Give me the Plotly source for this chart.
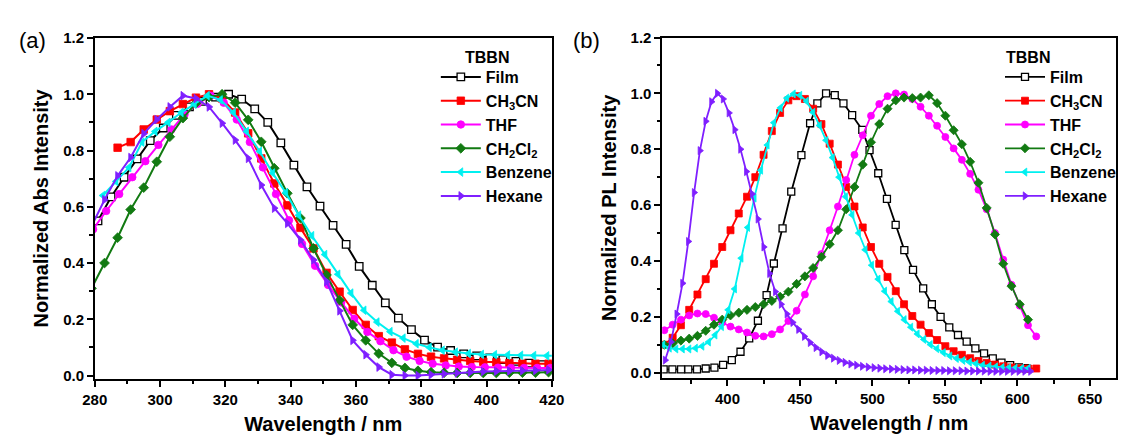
import plotly.graph_objects as go

FONT = "Liberation Sans, Arial, Helvetica, sans-serif"

# ---------------- (a) normalized absorption ----------------
abs_film_x = [281, 285, 289, 293, 297, 301, 305, 309, 313, 317, 321, 325, 329, 333, 337, 341,
              345, 349, 353, 357, 361, 365, 369, 373, 377, 381, 385, 389, 393, 397, 401, 405,
              409, 413, 417, 421]
abs_film_y = [0.55, 0.635, 0.705, 0.77, 0.835, 0.88, 0.925, 0.955, 0.975, 0.99, 1.0, 0.983,
              0.948, 0.9, 0.827, 0.748, 0.671, 0.602, 0.534, 0.466, 0.388, 0.321, 0.258, 0.204,
              0.163, 0.126, 0.101, 0.089, 0.077, 0.07, 0.063, 0.057, 0.05, 0.044, 0.039, 0.036]

abs_ch3cn_x = [287, 291, 295, 299, 303, 307, 311, 315, 319, 323, 327, 331, 335, 339, 343, 347,
               351, 355, 359, 363, 367, 371, 375, 379, 383, 387, 391, 395, 399, 403, 407, 411,
               415, 419, 423]
abs_ch3cn_y = [0.81, 0.83, 0.875, 0.91, 0.94, 0.965, 0.988, 1.0, 0.985, 0.935, 0.861, 0.772,
               0.683, 0.605, 0.525, 0.452, 0.365, 0.298, 0.233, 0.18, 0.14, 0.117, 0.093, 0.077,
               0.067, 0.061, 0.056, 0.052, 0.049, 0.047, 0.044, 0.042, 0.042, 0.042, 0.042]

abs_thf_x = [279.5, 283.5, 287.5, 291.5, 295.5, 299.5, 303.5, 307.5, 311.5, 315.5, 319.5, 323.5,
             327.5, 331.5, 335.5, 339.5, 343.5, 347.5, 351.5, 355.5, 359.5, 363.5, 367.5, 371.5,
             375.5, 379.5, 383.5, 387.5, 391.5, 395.5, 399.5, 403.5, 407.5, 411.5, 415.5, 419.5,
             423.5]
abs_thf_y = [0.52, 0.585, 0.645, 0.705, 0.762, 0.82, 0.875, 0.928, 0.966, 0.995, 0.97, 0.91,
             0.83, 0.74, 0.645, 0.552, 0.468, 0.39, 0.322, 0.26, 0.202, 0.155, 0.122, 0.09,
             0.067, 0.052, 0.042, 0.036, 0.032, 0.03, 0.029, 0.028, 0.027, 0.027, 0.027, 0.027,
             0.027]

abs_ch2cl2_x = [279, 283, 287, 291, 295, 299, 303, 307, 311, 315, 319, 323, 327, 331, 335, 339,
                343, 347, 351, 355, 359, 363, 367, 371, 375, 379, 383, 387, 391, 395, 399, 403,
                407, 411, 415, 419, 423]
abs_ch2cl2_y = [0.31, 0.4, 0.49, 0.59, 0.668, 0.76, 0.849, 0.915, 0.968, 0.99, 1.0, 0.97,
                0.909, 0.831, 0.737, 0.648, 0.56, 0.452, 0.357, 0.268, 0.18, 0.125, 0.078,
                0.045, 0.027, 0.017, 0.012, 0.01, 0.009, 0.009, 0.009, 0.009, 0.01, 0.01, 0.01,
                0.012, 0.012]

abs_benzene_x = [282.5, 286.5, 290.5, 294.5, 298.5, 302.5, 306.5, 310.5, 314.5, 318.5, 322.5,
                 326.5, 330.5, 334.5, 338.5, 342.5, 346.5, 350.5, 354.5, 358.5, 362.5, 366.5,
                 370.5, 374.5, 378.5, 382.5, 386.5, 390.5, 394.5, 398.5, 402.5, 406.5, 410.5,
                 414.5, 418.5, 422.5]
abs_benzene_y = [0.64, 0.69, 0.74, 0.83, 0.868, 0.9, 0.935, 0.965, 0.995, 0.98, 0.935, 0.868,
                 0.797, 0.72, 0.65, 0.57, 0.497, 0.43, 0.36, 0.293, 0.232, 0.19, 0.156, 0.133,
                 0.113, 0.1, 0.09, 0.083, 0.078, 0.075, 0.074, 0.073, 0.072, 0.071, 0.07, 0.07]

abs_hexane_x = [279, 283, 287, 291, 295, 299, 303, 307, 311, 315, 319, 323, 327, 331, 335, 339,
                343, 347, 351, 355, 359, 363, 367, 371, 375, 379, 383, 387, 391, 395, 399, 403,
                407, 411, 415, 419, 423]
abs_hexane_y = [0.53, 0.625, 0.71, 0.775, 0.86, 0.91, 0.955, 0.995, 0.985, 0.955, 0.897, 0.837,
                0.772, 0.677, 0.595, 0.541, 0.482, 0.411, 0.334, 0.23, 0.125, 0.074, 0.03,
                0.003, 0.0, 0.0, 0.003, 0.006, 0.009, 0.012, 0.014, 0.015, 0.016, 0.017, 0.018,
                0.02, 0.02]

# ---------------- (b) normalized photoluminescence ----------------
pl_film_x = [356, 362, 368, 373, 379, 385, 391, 397, 403, 409, 415, 421, 427, 432, 438, 444,
             451, 457, 462, 468, 474, 480, 486, 493, 498, 504, 510, 516, 522, 528, 535, 541,
             547, 553, 559, 565, 571, 577, 583, 589, 595, 601, 606]
pl_film_y = [0.012, 0.012, 0.012, 0.012, 0.012, 0.015, 0.018, 0.028, 0.045, 0.075, 0.123, 0.186,
             0.278, 0.391, 0.517, 0.648, 0.779, 0.893, 0.964, 1.0, 0.994, 0.964, 0.922, 0.869,
             0.797, 0.714, 0.622, 0.529, 0.439, 0.368, 0.302, 0.245, 0.2, 0.162, 0.135, 0.111,
             0.087, 0.069, 0.051, 0.036, 0.027, 0.019, 0.016]

pl_grid_x = [356.5, 362.2, 367.9, 373.6, 379.3, 385.0, 390.7, 396.4, 402.1, 407.8, 413.5, 419.2,
             424.9, 430.6, 436.3, 442.0, 447.7, 453.4, 459.1, 464.8, 470.5, 476.2, 481.9, 487.6,
             493.3, 499.0, 504.7, 510.4, 516.1, 521.8, 527.5, 533.2, 538.9, 544.6, 550.3, 556.0,
             561.7, 567.4, 573.1, 578.8, 584.5, 590.2, 595.9, 601.6, 607.3, 613.0]

pl_ch3cn_x = pl_grid_x
pl_ch3cn_y = [0.1, 0.125, 0.17, 0.225, 0.28, 0.335, 0.39, 0.45, 0.51, 0.57, 0.63, 0.7, 0.78,
              0.865, 0.93, 0.975, 0.99, 0.98, 0.945, 0.89, 0.82, 0.745, 0.665, 0.595, 0.52,
              0.45, 0.39, 0.343, 0.292, 0.245, 0.203, 0.172, 0.142, 0.117, 0.095, 0.077, 0.064,
              0.052, 0.042, 0.035, 0.029, 0.023, 0.019, 0.016, 0.015, 0.015]

pl_thf_x = pl_grid_x
pl_thf_y = [0.152, 0.172, 0.19, 0.205, 0.212, 0.21, 0.197, 0.18, 0.165, 0.155, 0.144, 0.132,
            0.13, 0.138, 0.155, 0.185, 0.222, 0.28, 0.345, 0.425, 0.51, 0.595, 0.69, 0.78, 0.85,
            0.92, 0.962, 0.99, 1.0, 0.996, 0.98, 0.952, 0.92, 0.884, 0.844, 0.803, 0.762, 0.712,
            0.655, 0.585, 0.5, 0.405, 0.315, 0.24, 0.17, 0.13]

pl_ch2cl2_x = pl_grid_x[:45]
pl_ch2cl2_y = [0.1, 0.105, 0.115, 0.122, 0.132, 0.15, 0.172, 0.19, 0.205, 0.215, 0.225, 0.235,
               0.245, 0.257, 0.272, 0.29, 0.318, 0.345, 0.375, 0.415, 0.46, 0.51, 0.585, 0.665,
               0.745, 0.825, 0.89, 0.945, 0.975, 0.985, 0.983, 0.985, 0.993, 0.965, 0.92, 0.868,
               0.818, 0.755, 0.68, 0.59, 0.495, 0.39, 0.31, 0.245, 0.19]

pl_benzene_x = [355.5, 360, 364.5, 369, 373.5, 378, 382.5, 387, 391.5, 396, 400.5, 405, 409.5,
                414, 418.5, 423, 427.5, 432, 436.5, 441, 445.5, 450, 454.5, 459, 463.5, 468,
                472.5, 477, 481.5, 486, 490.5, 495, 499.5, 504, 508.5, 513, 517.5, 522, 526.5,
                531, 535.5, 540, 544.5, 549, 553.5, 558, 562.5, 567, 571.5, 576, 580.5, 585,
                589.5, 594, 598.5, 603, 607.5]
pl_benzene_y = [0.1, 0.088, 0.085, 0.085, 0.085, 0.088, 0.095, 0.11, 0.135, 0.165, 0.225, 0.3,
                0.41, 0.52, 0.625, 0.725, 0.815, 0.895, 0.948, 0.983, 0.998, 0.993, 0.972, 0.932,
                0.885, 0.832, 0.77, 0.7, 0.63, 0.565, 0.5, 0.44, 0.385, 0.335, 0.292, 0.255, 0.22,
                0.19, 0.163, 0.139, 0.119, 0.101, 0.086, 0.072, 0.06, 0.051, 0.044, 0.038, 0.032,
                0.027, 0.024, 0.021, 0.019, 0.018, 0.017, 0.016, 0.016]

pl_hexane_x = [357, 361, 365, 369, 373, 377, 381, 385, 389, 393, 397, 401, 405, 409, 413, 417,
               421, 425, 429, 433, 437, 441, 445, 449, 453, 457, 461, 465, 469, 473, 477, 481,
               485, 489, 493, 497, 501, 505, 509, 513, 517, 521, 525, 529, 533, 537, 541, 545,
               549, 553, 557, 561, 565, 569, 573, 577, 581, 585, 589, 593, 597, 601, 605, 609]
pl_hexane_y = [0.045, 0.11, 0.21, 0.32, 0.47, 0.645, 0.795, 0.9, 0.97, 1.0, 0.98, 0.93, 0.87,
               0.8, 0.72, 0.64, 0.55, 0.45, 0.355, 0.29, 0.245, 0.21, 0.18, 0.155, 0.13, 0.108,
               0.09, 0.075, 0.062, 0.052, 0.044, 0.037, 0.031, 0.027, 0.023, 0.02, 0.018, 0.016,
               0.014, 0.013, 0.012, 0.011, 0.01, 0.01, 0.009, 0.009, 0.008, 0.008, 0.008, 0.007,
               0.007, 0.007, 0.006, 0.006, 0.006, 0.006, 0.005, 0.005, 0.005, 0.005, 0.005, 0.005,
               0.005, 0.005]

# series styling: legend label, colour, marker symbol, hollow marker?
SERIES = [
    ("Film", "#000000", "square", True),
    ("CH<sub>3</sub>CN", "#ff0000", "square", False),
    ("THF", "#ff00ff", "circle", False),
    ("CH<sub>2</sub>Cl<sub>2</sub>", "#127a12", "diamond", False),
    ("Benzene", "#00f0f0", "triangle-left", False),
    ("Hexane", "#7f1fff", "triangle-right", False),
]

abs_data = [(abs_film_x, abs_film_y), (abs_ch3cn_x, abs_ch3cn_y), (abs_thf_x, abs_thf_y),
            (abs_ch2cl2_x, abs_ch2cl2_y), (abs_benzene_x, abs_benzene_y),
            (abs_hexane_x, abs_hexane_y)]
pl_data = [(pl_film_x, pl_film_y), (pl_ch3cn_x, pl_ch3cn_y), (pl_thf_x, pl_thf_y),
           (pl_ch2cl2_x, pl_ch2cl2_y), (pl_benzene_x, pl_benzene_y),
           (pl_hexane_x, pl_hexane_y)]


def marker(symbol, color, hollow, size):
    if hollow:
        return dict(symbol=symbol, size=size, color="white", line=dict(color=color, width=1.3))
    return dict(symbol=symbol, size=size, color=color, line=dict(color=color, width=0.8))


fig = go.Figure()

for (name, color, symbol, hollow), (xs, ys) in zip(SERIES, abs_data):
    fig.add_trace(go.Scatter(
        x=xs, y=ys, mode="lines+markers", name=name,
        line=dict(color=color, width=2),
        marker=marker(symbol, color, hollow, 7.5),
        xaxis="x", yaxis="y", legend="legend"))

for (name, color, symbol, hollow), (xs, ys) in zip(SERIES, pl_data):
    fig.add_trace(go.Scatter(
        x=xs, y=ys, mode="lines+markers", name=name,
        line=dict(color=color, width=1.8),
        marker=marker(symbol, color, hollow, 7),
        xaxis="x2", yaxis="y2", legend="legend2"))

W, H = 1121, 436
TICKFONT = dict(family=FONT, size=15, color="black", weight="bold")
TITLEFONT = dict(family=FONT, size=20, color="black", weight="bold")
LEGFONT = dict(family=FONT, size=16, color="black", weight="bold")


def axis_style(**kw):
    base = dict(showline=True, linecolor="black", linewidth=1.5, mirror=True,
                ticks="outside", ticklen=6, tickwidth=1.5, tickcolor="black",
                showgrid=False, zeroline=False, tickfont=TICKFONT, automargin=False)
    base.update(kw)
    return base


def minor(step):
    return dict(dtick=step, ticks="outside", ticklen=3.5, tickwidth=1.5, tickcolor="black")


fig.update_layout(
    width=W, height=H,
    margin=dict(l=0, r=0, t=0, b=0),
    paper_bgcolor="white", plot_bgcolor="white",
    font=dict(family=FONT, color="black"),
    xaxis=axis_style(domain=[95 / W, 553.3 / W], range=[280, 420], dtick=20, tick0=280,
                     minor=minor(10),
                     title=dict(text="Wavelength / nm", font=TITLEFONT, standoff=10)),
    yaxis=axis_style(domain=[1 - 378.9 / H, 1 - 38 / H], range=[-0.012, 1.2], dtick=0.2,
                     tick0=0, tickformat=".1f", minor=minor(0.1),
                     title=dict(text="Normalized Abs Intensity", font=TITLEFONT, standoff=9)),
    xaxis2=axis_style(domain=[664 / W, 1119 / W], range=[355, 668], dtick=50, tick0=400,
                      anchor="y2", minor=minor(25),
                      title=dict(text="Wavelength / nm", font=TITLEFONT, standoff=10)),
    yaxis2=axis_style(domain=[1 - 378.3 / H, 1 - 37.5 / H], range=[-0.02, 1.2], dtick=0.2,
                      tick0=0, tickformat=".1f", anchor="x2", minor=minor(0.1),
                      title=dict(text="Normalized PL Intensity", font=TITLEFONT, standoff=9)),
    legend=dict(x=437 / W, y=1 - 60 / H, xanchor="left", yanchor="top", font=LEGFONT,
                bgcolor="rgba(0,0,0,0)", itemwidth=40, tracegroupgap=0),
    legend2=dict(x=1003 / W, y=1 - 60 / H, xanchor="left", yanchor="top", font=LEGFONT,
                 bgcolor="rgba(0,0,0,0)", itemwidth=40, tracegroupgap=0),
    annotations=[
        dict(text="TBBN", x=488 / W, y=1 - 48 / H, xref="paper", yref="paper",
             showarrow=False, font=LEGFONT, borderpad=0),
        dict(text="TBBN", x=1054 / W, y=1 - 48 / H, xref="paper", yref="paper",
             showarrow=False, font=LEGFONT, borderpad=0),
        dict(text="(a)", x=17 / W, y=1 - 26 / H, xref="paper", yref="paper",
             showarrow=False, font=dict(family=FONT, size=22)),
        dict(text="(b)", x=588 / W, y=1 - 26 / H, xref="paper", yref="paper",
             showarrow=False, font=dict(family=FONT, size=22)),
    ],
)

fig.write_html("out.html")
